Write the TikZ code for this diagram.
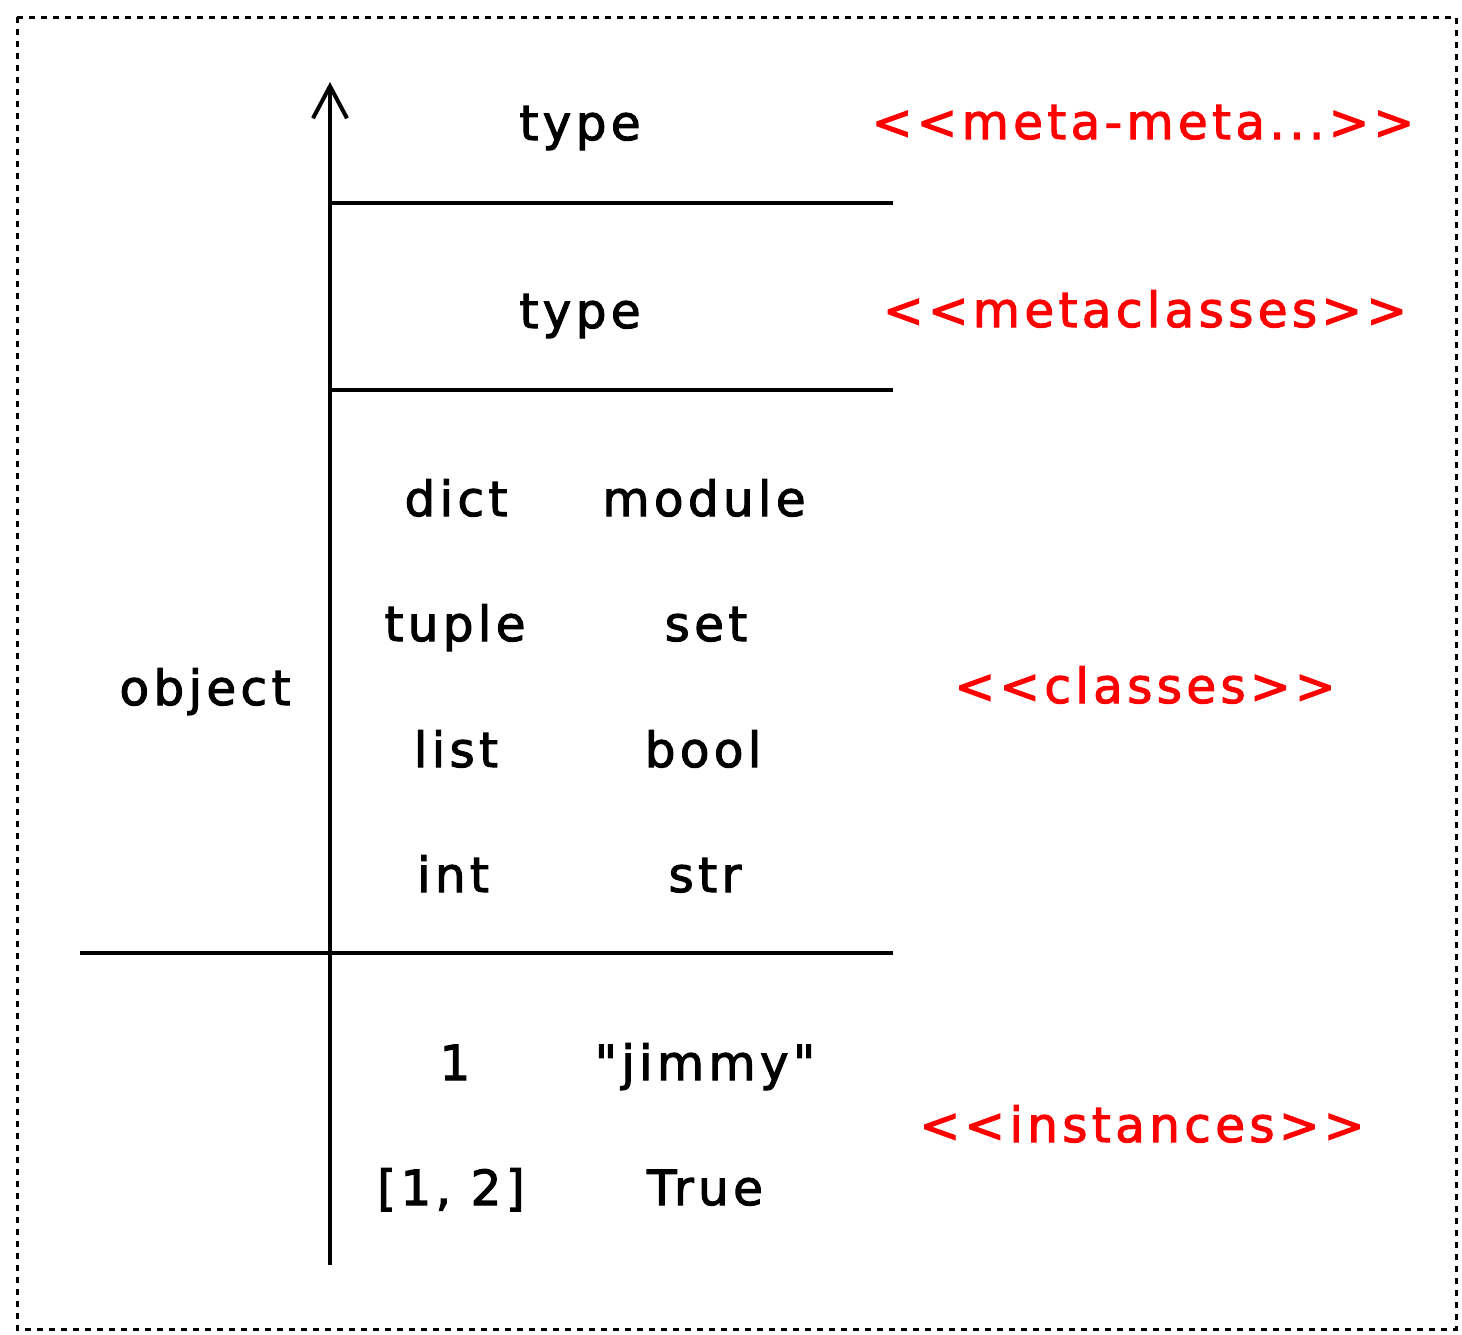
\documentclass[tikz,border=0pt]{standalone}
\usepackage{fontspec}
\setmainfont{DejaVu Sans}[LetterSpace=9.0, FakeBold=2.2]
% same face without the TeX quote mapping, for straight double quotes
\font\straightq="DejaVu Sans:letterspace=9;embolden=2.2" at 24.2pt
\usetikzlibrary{arrows.meta}
\definecolor{lblred}{RGB}{255,0,0}
\tikzset{
  x=0.5pt, y=-0.5pt,
  rule/.style={line width=2pt, draw=black},
  word/.style={anchor=base, inner sep=0pt, font=\fontsize{24.2}{29}\selectfont},
  level/.style={word, text=lblred},
  frame/.style={line width=1.5pt, dash pattern=on 3pt off 3pt},
}
\begin{document}
\begin{tikzpicture}
\useasboundingbox (0,0) rectangle (1462,1334);
% dotted outer frame
\draw[frame] (17,17) rectangle (1456,1329);

% axis with open arrow head
\coordinate (axisbot) at (330,1265);
\coordinate (axistop) at (330,82);
\draw[rule, -{Straight Barb[length=16pt, width=17pt, line width=2pt]}] (axisbot) -- (axistop);

% layer separators
\coordinate (s1l) at (330,203); \coordinate (s1r) at (893,203);
\coordinate (s2l) at (330,390); \coordinate (s2r) at (893,390);
\coordinate (s3l) at (80,953);  \coordinate (s3r) at (893,953);
\draw[rule] (s1l) -- (s1r);
\draw[rule] (s2l) -- (s2r);
\draw[rule] (s3l) -- (s3r);

% layer contents
\node[word] (type1) at (580,140) {type};
\node[word] (type2) at (580,328) {type};
\node[word] (dict) at (456,516) {dict};
\node[word] (module) at (704,516) {module};
\node[word] (tuple) at (455,641) {tuple};
\node[word] (set) at (706,641) {set};
\node[word] (list) at (456,767) {list};
\node[word] (bool) at (703,767) {bool};
\node[word] (int) at (453,892) {int};
\node[word] (str) at (705,892) {str};
\node[word] (object) at (205,705) {object};
\node[word] (one) at (455,1080) {1};
\node[word] (jimmy) at (705,1080) {\straightq "jimmy"};
\node[word] (pair) at (451,1205) {[1, 2]};
\node[word] (true) at (705,1205) {True};

% layer names
\node[level] (metameta) at (1143,139) {<{}<meta-meta...>{}>};
\node[level] (metacls) at (1145,327) {<{}<metaclasses>{}>};
\node[level] (classes) at (1145,703) {<{}<classes>{}>};
\node[level] (instances) at (1142,1142) {<{}<instances>{}>};
\end{tikzpicture}
\end{document}
